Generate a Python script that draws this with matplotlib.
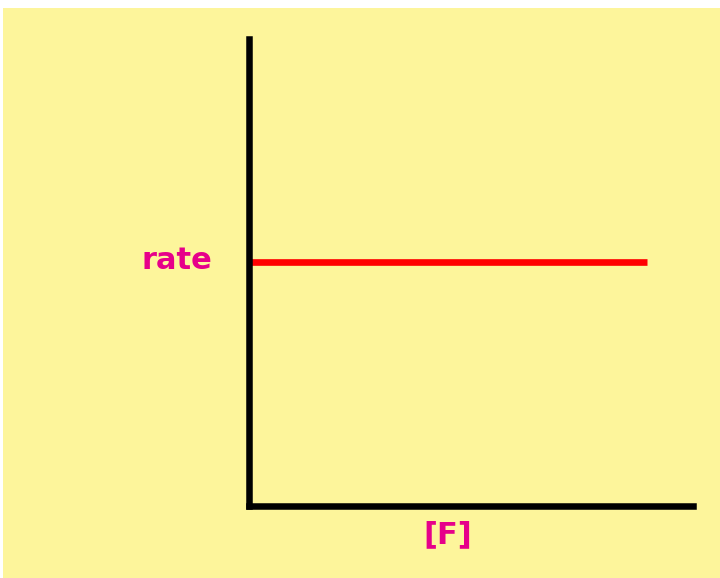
import matplotlib
matplotlib.use('Agg')
import matplotlib.pyplot as plt
from matplotlib.patches import Rectangle

# data: rate does not depend on [F] (zero order)
conc_F = [0.0, 0.897]
rate = [0.522, 0.522]
y_label = "rate"
x_label = "[F]"

bg = '#FDF59B'
pink = '#E6008A'

W, H = 720, 578
fig = plt.figure(figsize=(W / 100, H / 100), dpi=100)
fig.patch.set_facecolor('white')

# yellow panel (behind the axes)
fig.patches.append(Rectangle((3 / W, 0), 1 - 3 / W, (H - 8) / H,
                             transform=fig.transFigure, facecolor=bg,
                             edgecolor='none', zorder=-10))

x0, x1, y0, y1 = 249, 693, 506, 39
ax = fig.add_axes([x0 / W, (H - y0) / H, (x1 - x0) / W, (y0 - y1) / H])
ax.set_facecolor('none')
ax.set_zorder(5)
ax.set_xlim(0, 1)
ax.set_ylim(0, 1)

ax.plot(conc_F, rate, color='#FF0000', lw=4.8, solid_capstyle='butt')

for s in ['top', 'right']:
    ax.spines[s].set_visible(False)
for s in ['left', 'bottom']:
    ax.spines[s].set_linewidth(4.7)
    ax.spines[s].set_color('black')
    ax.spines[s].set_capstyle('projecting')
ax.set_xticks([])
ax.set_yticks([])

fig.text(177 / W, 1 - 261 / H, y_label,
         ha='center', va='center', color=pink, fontsize=22,
         fontweight='bold', family='DejaVu Sans', zorder=6)
fig.text(448 / W, 1 - 535 / H, x_label,
         ha='center', va='center', color=pink, fontsize=22,
         fontweight='bold', family='DejaVu Sans', zorder=6)

fig.savefig('out.png', dpi=100, facecolor=fig.get_facecolor())
